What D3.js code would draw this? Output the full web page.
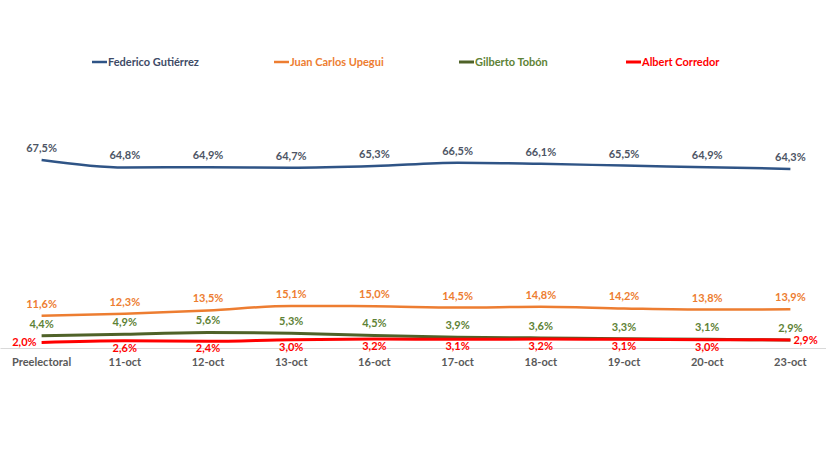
<!DOCTYPE html>
<html>
<head>
<meta charset="utf-8">
<script src="https://cdn.jsdelivr.net/npm/d3@7"></script>
<style>
  body { margin: 0; background: #fff; }
  svg text { font-family: Lato, "Open Sans", sans-serif; font-weight: 700; }
</style>
</head>
<body>
<svg id="chart" width="826" height="460"></svg>
<script>
// --- data ---
const categories = ["Preelectoral", "11-oct", "12-oct", "13-oct", "16-oct", "17-oct", "18-oct", "19-oct", "20-oct", "23-oct"];
const federico = [67.5, 64.8, 64.9, 64.7, 65.3, 66.5, 66.1, 65.5, 64.9, 64.3];
const juan     = [11.6, 12.3, 13.5, 15.1, 15.0, 14.5, 14.8, 14.2, 13.8, 13.9];
const gilberto = [4.4, 4.9, 5.6, 5.3, 4.5, 3.9, 3.6, 3.3, 3.1, 2.9];
const albert   = [2.0, 2.6, 2.4, 3.0, 3.2, 3.1, 3.2, 3.1, 3.0, 2.9];

const series = [
    { name: "Federico Gutiérrez", values: federico, line: "#2F5486", text: "#4D5565", legendText: "#3E4B66", width: 2.5, pos: "above", legendX: 92 },
    { name: "Juan Carlos Upegui", values: juan, line: "#ED7D31", text: "#ED7D31", legendText: "#ED7D31", width: 2.5, pos: "above", legendX: 274 },
    { name: "Gilberto Tobón", values: gilberto, line: "#4F6228", text: "#5E8236", legendText: "#5E8236", width: 3, pos: "above", legendX: 459 },
    { name: "Albert Corredor", values: albert, line: "#FF0000", text: "#FF0000", legendText: "#FF0000", width: 3, pos: "below", legendX: 626 }
];

const svg = d3.select("#chart");
const fmt = v => v.toFixed(1).replace(".", ",") + "%";

const x = d3.scaleBand().domain(categories).range([0, 832]);
const cx = c => x(c) + x.bandwidth() / 2;
const y = d3.scaleLinear().domain([0, 70]).range([348, 153]);

// baseline axis
svg.append("g")
    .attr("transform", "translate(0,348)")
    .call(d3.axisBottom(x).tickSize(0).tickPadding(10))
    .call(g => g.select(".domain").attr("stroke", "#D9D9D9").attr("stroke-width", 1))
    .call(g => g.selectAll("text")
        .attr("fill", "#595959")
        .attr("font-size", 11)
        .attr("font-family", "Lato, 'Open Sans', sans-serif")
        .attr("font-weight", 700));

const line = d3.line()
    .x((d, i) => cx(categories[i]))
    .y(d => y(d))
    .curve(d3.curveMonotoneX);

// lines
series.forEach(s => {
    svg.append("path")
        .datum(s.values)
        .attr("fill", "none")
        .attr("stroke", s.line)
        .attr("stroke-width", s.width)
        .attr("d", line);
});

// data labels
series.forEach(s => {
    svg.append("g").selectAll("text")
        .data(s.values)
        .join("text")
        .attr("x", (d, i) => {
            if (s.pos === "below" && i === 0) return cx(categories[i]) - 5;
            if (s.pos === "below" && i === s.values.length - 1) return cx(categories[i]) + 3;
            return cx(categories[i]);
        })
        .attr("y", (d, i) => {
            if (s.pos === "below" && (i === 0 || i === s.values.length - 1)) return y(d) + 4;
            return s.pos === "above" ? y(d) - 8 : y(d) + 11;
        })
        .attr("text-anchor", (d, i) => {
            if (s.pos === "below" && i === 0) return "end";
            if (s.pos === "below" && i === s.values.length - 1) return "start";
            return "middle";
        })
        .attr("font-size", 11)
        .attr("fill", s.text)
        .text(fmt);
});

// legend
const legend = svg.append("g");
series.forEach(s => {
    legend.append("line")
        .attr("x1", s.legendX).attr("x2", s.legendX + 15)
        .attr("y1", 62).attr("y2", 62)
        .attr("stroke", s.line).attr("stroke-width", s.width);
    legend.append("text")
        .attr("x", s.legendX + 16).attr("y", 66)
        .attr("font-size", 11)
        .attr("fill", s.legendText)
        .text(s.name);
});
</script>
</body>
</html>
